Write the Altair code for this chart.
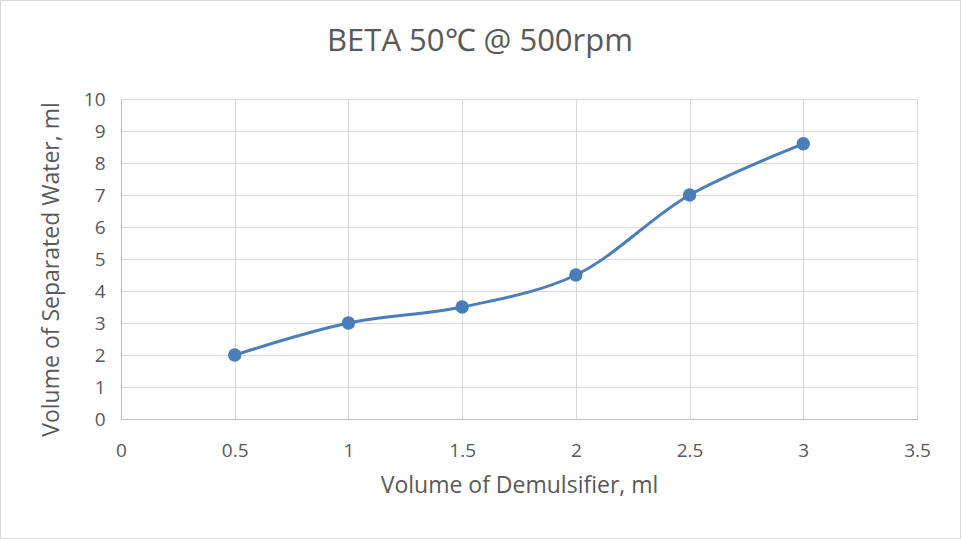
import altair as alt
import pandas as pd

x_vals = [0.5, 1, 1.5, 2, 2.5, 3]
y_vals = [2, 3, 3.5, 4.5, 7, 8.6]

df = pd.DataFrame({"x": x_vals, "y": y_vals})

FONT = "Open Sans"
GREY = "#595959"
BLUE = "#4a7ebb"

xenc = alt.X("x:Q", scale=alt.Scale(domain=[0, 3.5], nice=False),
             axis=alt.Axis(title="Volume of Demulsifier, ml", values=[0, 0.5, 1, 1.5, 2, 2.5, 3, 3.5],
                           format="~g", tickSize=0, labelPadding=22, titlePadding=14,
                           labelFlush=False, labelOverlap=False,
                           grid=True, gridColor="#d9d9d9", domainColor="#bfbfbf",
                           labelFont=FONT, labelFontSize=19, labelColor=GREY,
                           titleFont=FONT, titleFontSize=23, titleColor=GREY, titleFontWeight="normal"))
yenc = alt.Y("y:Q", scale=alt.Scale(domain=[0, 10], nice=False),
             axis=alt.Axis(title="Volume of Separated Water, ml", values=[0, 1, 2, 3, 4, 5, 6, 7, 8, 9, 10],
                           tickSize=0, labelPadding=16, titlePadding=20, titleY=170,
                           labelFlush=False, labelOverlap=False,
                           grid=True, gridColor="#d9d9d9", domainColor="#bfbfbf",
                           labelFont=FONT, labelFontSize=19, labelColor=GREY,
                           titleFont=FONT, titleFontSize=23, titleColor=GREY, titleFontWeight="normal"))

border = alt.Chart(df).mark_rect(fill=None, stroke="#d9d9d9", strokeWidth=1, clip=False).encode(
    x=alt.value(-120.5), x2=alt.value(839.5), y=alt.value(-98.5), y2=alt.value(439.5))

line = alt.Chart(df).mark_line(interpolate="catmull-rom", color=BLUE, strokeWidth=3).encode(x=xenc, y=yenc)
pts = alt.Chart(df).mark_circle(color=BLUE, size=180, opacity=1).encode(x=xenc, y=yenc)

chart = alt.layer(border, line, pts).properties(
    width=796, height=320,
    title=alt.TitleParams("BETA 50℃ @ 500rpm", font=FONT, fontSize=31, color=GREY,
                          fontWeight="normal", anchor="middle", offset=-58, dx=-39),
    autosize=alt.AutoSizeParams(type="none"),
    padding={"left": 121, "top": 99, "right": 44, "bottom": 120},
).configure_view(stroke=None).configure(background="white")

chart.save("out.html", embed_options={"renderer": "svg", "actions": False})
